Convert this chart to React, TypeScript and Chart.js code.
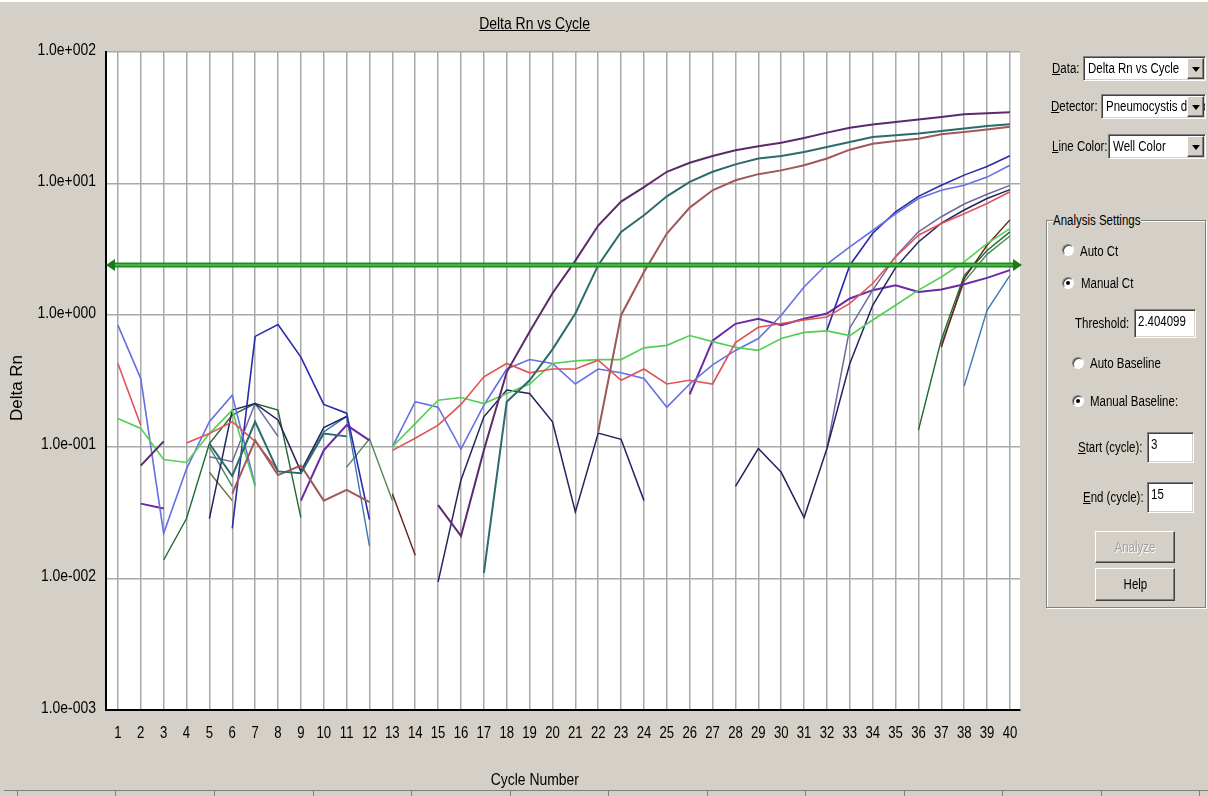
import React, { useEffect, useRef } from "react";
import { Chart, registerables } from "chart.js";

Chart.register(...registerables);

const N = null;

// ---- data ----
const cycles = [1, 2, 3, 4, 5, 6, 7, 8, 9, 10, 11, 12, 13, 14, 15, 16, 17, 18, 19, 20, 21, 22, 23, 24, 25, 26, 27, 28, 29, 30, 31, 32, 33, 34, 35, 36, 37, 38, 39, 40];
const xTickLabels = ["1", "2", "3", "4", "5", "6", "7", "8", "9", "10", "11", "12", "13", "14", "15", "16", "17", "18", "19", "20", "21", "22", "23", "24", "25", "26", "27", "28", "29", "30", "31", "32", "33", "34", "35", "36", "37", "38", "39", "40"];
const yTickValues = [0.001, 0.01, 0.1, 1, 10, 100];
const yTickLabels = ["1.0e-003", "1.0e-002", "1.0e-001", "1.0e+000", "1.0e+001", "1.0e+002"];
const threshold = 2.404099;

const wellPlum = [N, 0.072, 0.11, N, N, N, N, N, N, N, N, N, N, N, 0.036, 0.021, 0.094, 0.37, 0.75, 1.47, 2.6, 4.8, 7.3, 9.4, 12.3, 14.4, 16.2, 17.9, 19.2, 20.4, 22.2, 24.4, 26.6, 28.1, 29.4, 30.7, 32.1, 33.6, 34.2, 34.9];
const wellTeal = [N, N, N, N, 0.106, 0.06, 0.155, 0.065, 0.063, 0.126, 0.12, N, N, N, N, N, 0.011, 0.22, 0.32, 0.55, 1.03, 2.4, 4.3, 5.75, 8.0, 10.3, 12.3, 14.0, 15.5, 16.2, 17.4, 19.0, 20.7, 22.6, 23.3, 24.0, 25.1, 26.2, 27.4, 28.2];
const wellRose = [N, N, N, N, N, 0.044, 0.112, 0.061, 0.072, 0.039, 0.047, 0.038, N, N, N, N, N, N, N, N, N, 0.13, 1.0, 2.13, 4.17, 6.57, 8.9, 10.6, 11.8, 12.6, 13.8, 15.5, 18.1, 20.1, 21.1, 21.9, 23.7, 24.7, 25.8, 27.0];
const wellRed = [0.43, 0.146, N, 0.107, 0.126, 0.155, 0.11, 0.066, N, N, N, N, 0.094, 0.116, 0.146, 0.21, 0.34, 0.43, 0.365, 0.39, 0.39, 0.455, 0.32, 0.39, 0.3, 0.32, 0.3, 0.62, 0.81, 0.865, 0.92, 0.97, 1.23, 1.74, 2.77, 4.05, 4.97, 5.9, 7.06, 8.66];
const wellLightGreen = [0.164, 0.138, 0.08, 0.076, 0.126, 0.19, 0.05, N, N, N, N, N, 0.1, 0.15, 0.226, 0.237, 0.213, 0.254, 0.3, 0.43, 0.45, 0.46, 0.46, 0.565, 0.59, 0.7, 0.63, 0.57, 0.54, 0.665, 0.74, 0.76, 0.7, 0.92, 1.19, 1.55, 1.95, 2.54, 3.5, 4.55];
const wellLightBlue = [0.84, 0.33, 0.022, 0.068, 0.155, 0.247, 0.051, N, N, N, N, N, 0.1, 0.22, 0.2, 0.096, 0.207, 0.39, 0.46, 0.43, 0.3, 0.39, 0.365, 0.33, 0.2, 0.3, 0.42, 0.54, 0.665, 1.0, 1.64, 2.45, 3.3, 4.4, 5.9, 7.7, 8.9, 9.7, 11.2, 13.8];
const wellBlue = [N, N, N, N, N, 0.024, 0.69, 0.85, 0.48, 0.21, 0.18, 0.028, N, N, N, N, N, N, N, N, N, N, N, N, N, N, N, N, N, N, N, 0.77, 2.4, 4.2, 6.1, 8.0, 9.7, 11.6, 13.5, 16.3];
const wellNavy = [N, N, N, N, 0.0285, 0.19, 0.213, 0.16, 0.065, 0.14, 0.17, N, N, N, 0.0094, 0.056, 0.169, 0.27, 0.254, 0.155, 0.032, 0.127, 0.114, 0.039, N, N, N, 0.05, 0.097, 0.064, 0.029, 0.097, 0.43, 1.19, 2.3, 3.6, 5.0, 6.3, 7.7, 9.0];
const wellSlate = [N, N, N, N, 0.084, 0.077, 0.213, 0.12, N, N, N, N, N, N, N, N, N, N, N, N, N, N, N, N, N, N, N, N, N, N, N, 0.097, 0.8, 1.55, 2.8, 4.3, 5.6, 7.0, 8.3, 9.7];
const wellPurple = [N, 0.037, 0.034, N, N, N, N, N, 0.039, 0.094, 0.146, 0.112, N, N, N, N, N, N, N, N, N, N, N, N, N, 0.25, 0.64, 0.86, 0.94, 0.84, 0.94, 1.03, 1.34, 1.55, 1.69, 1.5, 1.57, 1.72, 1.92, 2.2];
const wellDarkRed = [N, N, N, N, N, N, N, N, N, N, N, N, 0.044, 0.015, N, N, N, N, N, N, N, N, N, N, N, N, N, N, N, N, N, N, N, N, N, N, 0.57, 1.9, 3.4, 5.3];
const wellDarkGreen = [N, N, 0.0138, 0.0285, 0.106, 0.174, 0.213, 0.19, 0.029, N, N, N, N, N, N, N, N, N, N, N, N, N, N, N, N, N, N, N, N, N, N, N, N, N, N, 0.134, 0.65, 2.0, 3.1, 4.3];
const wellMidGreen = [N, N, N, N, 0.1, 0.05, N, N, N, N, 0.07, 0.115, 0.039, N, N, N, N, N, N, N, N, N, N, N, N, N, N, N, N, N, N, N, N, N, N, N, 0.6, 1.8, 2.9, 4.0];
const wellSteel = [N, N, N, N, N, N, N, N, 0.063, 0.13, 0.17, 0.0175, N, N, N, N, N, N, N, N, N, N, N, N, N, N, N, N, N, N, N, N, N, N, N, N, N, 0.29, 1.09, 2.01];
const wellOlive = [N, N, N, N, 0.064, 0.039, N, N, N, N, N, N, N, N, N, N, N, N, N, N, N, N, N, N, N, N, N, N, N, N, N, N, N, N, N, N, N, N, N, N];

const wells = [
  { name: "Well plum", values: wellPlum, color: "#5b2a6b", width: 2 },
  { name: "Well teal", values: wellTeal, color: "#2b6b6b", width: 2 },
  { name: "Well rose", values: wellRose, color: "#a05858", width: 2 },
  { name: "Well red", values: wellRed, color: "#e05454", width: 1.6 },
  { name: "Well light green", values: wellLightGreen, color: "#52d052", width: 1.6 },
  { name: "Well light blue", values: wellLightBlue, color: "#6670e6", width: 1.6 },
  { name: "Well blue", values: wellBlue, color: "#2a2aaa", width: 1.6 },
  { name: "Well navy", values: wellNavy, color: "#24245e", width: 1.5 },
  { name: "Well slate", values: wellSlate, color: "#6a6a9e", width: 1.5 },
  { name: "Well purple", values: wellPurple, color: "#6a2aa6", width: 2 },
  { name: "Well dark red", values: wellDarkRed, color: "#6a1e1e", width: 1.4 },
  { name: "Well dark green", values: wellDarkGreen, color: "#1e6a2e", width: 1.4 },
  { name: "Well mid green", values: wellMidGreen, color: "#4a8a5a", width: 1.4 },
  { name: "Well steel", values: wellSteel, color: "#3a78b8", width: 1.4 },
  { name: "Well olive", values: wellOlive, color: "#6a6a3a", width: 1.4 },
];

const LIB = "'Liberation Sans',Arial,sans-serif";
const SQUEEZE = 0.82;
const GREY = "#d4d0c8";

const bgPlugin = {
  id: "plotBg",
  beforeDraw(chart: any) {
    const { ctx, chartArea } = chart;
    ctx.save();
    ctx.fillStyle = "#ffffff";
    ctx.fillRect(chartArea.left, chartArea.top, chartArea.right - chartArea.left, chartArea.bottom - chartArea.top);
    ctx.restore();
  },
};

// tick labels drawn from the library's scales, with a narrow (condensed) look
const tickLabelPlugin = {
  id: "narrowTicks",
  afterDraw(chart: any) {
    const { ctx, chartArea, scales } = chart;
    ctx.save();
    ctx.fillStyle = "#000000";
    ctx.textBaseline = "middle";
    ctx.font = `17px ${LIB}`;
    ctx.textAlign = "right";
    scales.y.ticks.forEach((t: any, i: number) => {
      const py = scales.y.getPixelForValue(t.value);
      ctx.save();
      ctx.translate(chartArea.left - 10, py - 2);
      ctx.scale(SQUEEZE, 1);
      ctx.fillText(yTickLabels[i], 0, 0);
      ctx.restore();
    });
    ctx.font = `16px ${LIB}`;
    ctx.textAlign = "center";
    scales.x.ticks.forEach((t: any, i: number) => {
      const px = scales.x.getPixelForValue(t.value);
      ctx.save();
      ctx.translate(px, chartArea.bottom + 24);
      ctx.scale(SQUEEZE, 1);
      ctx.fillText(xTickLabels[i], 0, 0);
      ctx.restore();
    });
    ctx.restore();
  },
};

const thresholdPlugin = {
  id: "thresholdLine",
  afterDatasetsDraw(chart: any) {
    const { ctx, chartArea, scales } = chart;
    const y = scales.y.getPixelForValue(threshold);
    const l = chartArea.left;
    const r = chartArea.right + 2;
    ctx.save();
    ctx.strokeStyle = "#238a23";
    ctx.lineWidth = 5;
    ctx.beginPath();
    ctx.moveTo(l + 6, y);
    ctx.lineTo(r - 6, y);
    ctx.stroke();
    ctx.strokeStyle = "#4cc24c";
    ctx.lineWidth = 1.5;
    ctx.beginPath();
    ctx.moveTo(l + 6, y);
    ctx.lineTo(r - 6, y);
    ctx.stroke();
    ctx.fillStyle = "#1a7a1a";
    ctx.beginPath();
    ctx.moveTo(l, y);
    ctx.lineTo(l + 9, y - 6);
    ctx.lineTo(l + 9, y + 6);
    ctx.closePath();
    ctx.fill();
    ctx.beginPath();
    ctx.moveTo(r, y);
    ctx.lineTo(r - 9, y - 6);
    ctx.lineTo(r - 9, y + 6);
    ctx.closePath();
    ctx.fill();
    ctx.restore();
  },
};

function ChartCanvas() {
  const ref = useRef<HTMLCanvasElement | null>(null);
  useEffect(() => {
    if (!ref.current) return;
    const chart = new Chart(ref.current, {
      type: "line",
      data: {
        datasets: wells.map((w) => ({
          label: w.name,
          data: cycles.map((c, i) => ({ x: c, y: w.values[i] })),
          borderColor: w.color,
          backgroundColor: w.color,
          borderWidth: w.width,
          pointRadius: 0,
          tension: 0,
          fill: false,
          spanGaps: false,
        })),
      },
      options: {
        responsive: false,
        animation: false,
        events: [],
        layout: { padding: { left: 0, top: 52, right: 188, bottom: 0 } },
        plugins: { legend: { display: false }, tooltip: { enabled: false }, title: { display: false } },
        scales: {
          x: {
            type: "linear",
            min: 0.48,
            max: 40.44,
            afterBuildTicks: (s: any) => {
              s.ticks = cycles.map((v) => ({ value: v }));
            },
            afterFit: (s: any) => {
              s.height = 86;
            },
            grid: { color: "#a9a9a9", lineWidth: 1.5, drawTicks: false },
            border: { color: "#000000", width: 2 },
            ticks: { display: false, autoSkip: false },
          },
          y: {
            type: "logarithmic",
            min: 0.001,
            max: 100,
            afterBuildTicks: (s: any) => {
              s.ticks = yTickValues.map((v) => ({ value: v }));
            },
            afterFit: (s: any) => {
              s.width = 106;
            },
            grid: { color: "#a9a9a9", lineWidth: 1.5, drawTicks: false },
            border: { color: "#000000", width: 2 },
            ticks: { display: false },
          },
        },
      },
      plugins: [bgPlugin, thresholdPlugin, tickLabelPlugin],
    } as any);
    return () => chart.destroy();
  }, []);
  return <canvas ref={ref} width={1208} height={796} style={{ position: "absolute", left: 0, top: 0, width: 1208, height: 796 }} />;
}

const sunken: React.CSSProperties = {
  position: "absolute",
  boxSizing: "border-box",
  background: "#ffffff",
  borderTop: "1px solid #808080",
  borderLeft: "1px solid #808080",
  borderRight: "1px solid #ffffff",
  borderBottom: "1px solid #ffffff",
  boxShadow: "inset 1px 1px 0 #404040, inset -1px -1px 0 #d4d0c8",
  overflow: "hidden",
  whiteSpace: "nowrap",
};

const raised: React.CSSProperties = {
  position: "absolute",
  boxSizing: "border-box",
  background: GREY,
  borderTop: "1px solid #ffffff",
  borderLeft: "1px solid #ffffff",
  borderRight: "1px solid #404040",
  borderBottom: "1px solid #404040",
  boxShadow: "inset -1px -1px 0 #808080",
};

function Narrow({ children, origin = "left center", style = {} }: any) {
  return (
    <span style={{ display: "inline-block", transform: `scaleX(${SQUEEZE})`, transformOrigin: origin, whiteSpace: "nowrap", ...style }}>{children}</span>
  );
}

function Text({ x, cy, children, size = 14, color = "#000", style = {} }: any) {
  return (
    <div style={{ position: "absolute", left: x, top: cy - 10, height: 20, lineHeight: "20px", fontFamily: LIB, fontSize: size, color, whiteSpace: "nowrap", ...style }}>
      <Narrow>{children}</Narrow>
    </div>
  );
}

function CenterText({ cx, cy, children, size = 17, underline = false }: any) {
  return (
    <div style={{ position: "absolute", left: cx - 150, top: cy - 11, width: 300, height: 22, lineHeight: "22px", textAlign: "center", fontFamily: LIB, fontSize: size, color: "#000" }}>
      <Narrow origin="center center" style={{ textDecoration: underline ? "underline" : "none" }}>{children}</Narrow>
    </div>
  );
}

function Select({ x, y, w, h, text }: any) {
  return (
    <div style={{ ...sunken, left: x, top: y, width: w, height: h }}>
      <div style={{ position: "absolute", left: 4, top: 0, height: h - 2, lineHeight: `${h - 3}px`, fontFamily: LIB, fontSize: 14 }}>
        <Narrow>{text}</Narrow>
      </div>
      <div style={{ ...raised, right: 1, top: 1, width: 17, height: h - 4 }}>
        <div style={{ position: "absolute", left: 4, top: (h - 4) / 2 - 3, width: 0, height: 0, borderLeft: "4px solid transparent", borderRight: "4px solid transparent", borderTop: "5px solid #000" }} />
      </div>
    </div>
  );
}

function TextBox({ x, y, w, h, text }: any) {
  return (
    <div style={{ ...sunken, left: x, top: y, width: w, height: h }}>
      <div style={{ position: "absolute", left: 3, top: 3, lineHeight: "16px", fontFamily: LIB, fontSize: 14 }}>
        <Narrow>{text}</Narrow>
      </div>
    </div>
  );
}

function Radio({ cx, cy, checked }: any) {
  return (
    <div style={{ position: "absolute", left: cx - 6, top: cy - 6, width: 12, height: 12, boxSizing: "border-box", borderRadius: "50%", background: "#fff", borderTop: "1px solid #808080", borderLeft: "1px solid #808080", borderRight: "1px solid #ffffff", borderBottom: "1px solid #ffffff", boxShadow: "inset 1px 1px 0 #404040" }}>
      {checked ? <div style={{ position: "absolute", left: 3, top: 3, width: 4, height: 4, borderRadius: "50%", background: "#000" }} /> : null}
    </div>
  );
}

function Button({ x, y, w, h, text, disabled }: any) {
  return (
    <div style={{ ...raised, left: x, top: y, width: w, height: h, textAlign: "center", lineHeight: `${h - 2}px`, fontFamily: LIB, fontSize: 14, color: disabled ? "#a0a0a0" : "#000", textShadow: disabled ? "1px 1px 0 #ffffff" : "none" }}>
      <Narrow origin="center center">{text}</Narrow>
    </div>
  );
}

const U = ({ children }: any) => <span style={{ textDecoration: "underline" }}>{children}</span>;

const statusTicks = [17, 115, 214, 313, 411, 510, 608, 707, 805, 904, 1002, 1101, 1199];

export default function App() {
  return (
    <div style={{ position: "absolute", left: 0, top: 0, width: 1208, height: 796, background: GREY, overflow: "hidden" }}>
      <ChartCanvas />
      <div style={{ position: "absolute", left: 0, top: 0, width: 1208, height: 2, background: "#ffffff" }} />
      <CenterText cx={535} cy={24} size={17} underline={true}>Delta Rn vs Cycle</CenterText>
      <CenterText cx={535} cy={780} size={17}>Cycle Number</CenterText>
      <div style={{ position: "absolute", left: 17 - 45, top: 388 - 10, width: 90, height: 20, lineHeight: "20px", textAlign: "center", fontFamily: LIB, fontSize: 17, transform: "rotate(-90deg)", whiteSpace: "nowrap" }}>Delta Rn</div>
      <div style={{ position: "absolute", left: 4, top: 790, width: 1204, height: 1, background: "#808080" }} />
      {statusTicks.map((tx) => (
        <div key={tx} style={{ position: "absolute", left: tx, top: 791, width: 1, height: 5, background: "#808080" }} />
      ))}

      <Text x={1052} cy={68}><U>D</U>ata:</Text>
      <Select x={1083} y={56} w={123} h={25} text="Delta Rn vs Cycle" />
      <Text x={1051} cy={106}><U>D</U>etector:</Text>
      <Select x={1101} y={94} w={105} h={25} text="Pneumocystis detector" />
      <Text x={1052} cy={146}><U>L</U>ine Color:</Text>
      <Select x={1108} y={134} w={98} h={25} text="Well Color" />

      <div style={{ position: "absolute", left: 1046, top: 220, width: 160, height: 388, boxSizing: "border-box", border: "1px solid #808080", boxShadow: "1px 1px 0 #ffffff, inset 1px 1px 0 #ffffff" }} />
      <Text x={1053} cy={220} size={14} style={{ background: GREY, width: 88 }}>Analysis Settings</Text>
      <Radio cx={1068} cy={250} checked={false} />
      <Text x={1080} cy={251}>Auto Ct</Text>
      <Radio cx={1068} cy={283} checked={true} />
      <Text x={1081} cy={283}>Manual Ct</Text>
      <Text x={1075} cy={323}>Threshold:</Text>
      <TextBox x={1134} y={309} w={62} h={29} text="2.404099" />
      <Radio cx={1078} cy={363} checked={false} />
      <Text x={1090} cy={363}>Auto Baseline</Text>
      <Radio cx={1078} cy={401} checked={true} />
      <Text x={1090} cy={401}>Manual Baseline:</Text>
      <Text x={1078} cy={447}><U>S</U>tart (cycle):</Text>
      <TextBox x={1147} y={432} w={47} h={31} text="3" />
      <Text x={1083} cy={497}><U>E</U>nd (cycle):</Text>
      <TextBox x={1147} y={482} w={47} h={31} text="15" />
      <Button x={1095} y={531} w={80} h={32} text="Analyze" disabled={true} />
      <Button x={1095} y={568} w={80} h={33} text="Help" disabled={false} />
    </div>
  );
}
